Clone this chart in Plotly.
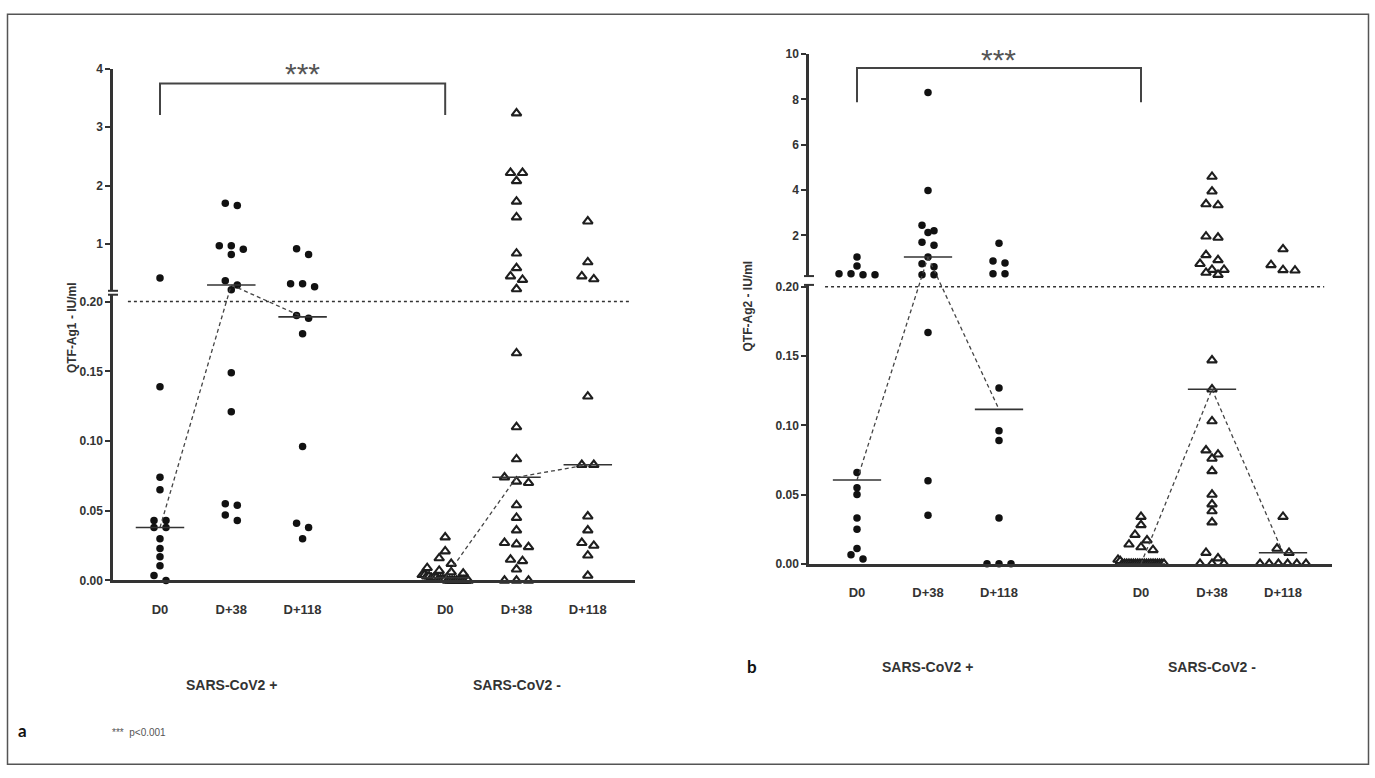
import numpy as np
import plotly.graph_objects as go

W, H = 1375, 778

# ---------------- data ----------------
time_labels = ["D0", "D+38", "D+118", "D0", "D+38", "D+118"]
group_labels = ["SARS-CoV2 +", "SARS-CoV2 -"]
cat_pos = [0, 1, 2, 4, 5, 6]
SPLIT = 0.2

# Panel a : QTF-Ag1 (IU/ml)
a_pos_d0 = [0.42, 0.139, 0.074, 0.065, 0.043, 0.043, 0.038, 0.038, 0.030, 0.023, 0.017, 0.0105, 0.0035, 0.0]
a_pos_d38 = [1.70, 1.66, 0.97, 0.97, 0.91, 0.82, 0.37, 0.30, 0.22, 0.149, 0.121, 0.055, 0.054, 0.047, 0.043]
a_pos_d118 = [0.92, 0.82, 0.32, 0.32, 0.27, 0.19, 0.188, 0.177, 0.096, 0.041, 0.038, 0.030]
a_neg_d0 = [0.031, 0.021, 0.016, 0.012, 0.009, 0.007, 0.006, 0.005, 0.004, 0.004, 0.003, 0.003,
            0.002, 0.002, 0.002, 0.001, 0.001, 0.001, 0.001, 0, 0, 0, 0, 0, 0, 0, 0, 0, 0]
a_neg_d38 = [3.24, 2.22, 2.22, 2.08, 1.73, 1.46, 0.84, 0.59, 0.45, 0.39, 0.23, 0.163, 0.110, 0.087,
             0.074, 0.071, 0.070, 0.054, 0.045, 0.036, 0.027, 0.026, 0.024, 0.015, 0.014, 0.008, 0, 0, 0]
a_neg_d118 = [1.39, 0.69, 0.45, 0.40, 0.132, 0.083, 0.083, 0.046, 0.036, 0.027, 0.025, 0.018, 0.0035]

# Panel b : QTF-Ag2 (IU/ml)
b_pos_d0 = [1.04, 0.65, 0.30, 0.30, 0.26, 0.26, 0.066, 0.055, 0.050, 0.033, 0.025, 0.011, 0.0066, 0.0035]
b_pos_d38 = [8.31, 3.98, 2.44, 2.20, 2.12, 1.69, 1.56, 1.04, 0.74, 0.61, 0.26, 0.26, 0.167, 0.060, 0.035]
b_pos_d118 = [1.65, 0.87, 0.78, 0.30, 0.30, 0.127, 0.096, 0.089, 0.033, 0, 0, 0]
b_neg_d0 = [0.034, 0.028, 0.021, 0.017, 0.014, 0.012, 0.010, 0.003, 0.002] + [0] * 20
b_neg_d38 = [4.59, 3.94, 3.38, 3.33, 1.95, 1.90, 1.13, 0.91, 0.74, 0.48, 0.48, 0.35, 0.26, 0.147,
             0.126, 0.103, 0.082, 0.079, 0.076, 0.067, 0.050, 0.043, 0.038, 0.030, 0.008, 0.004, 0, 0, 0]
b_neg_d118 = [1.39, 0.69, 0.47, 0.45, 0.034, 0.011, 0.008, 0, 0, 0, 0, 0, 0]

upper_ticks_a = [1, 2, 3, 4]
upper_ticks_b = [2, 4, 6, 8, 10]
lower_ticks = [0.00, 0.05, 0.10, 0.15, 0.20]

# ---------------- geometry (pixels) ----------------
PA = dict(x_px=(113, 635), xr=(-0.659, 6.662), low_px=(584, 293), low_r=(0, 0.2049),
          up_px=(289, 63), up_r=(0.2, 4.0), xa="x", yl="y", yu="y2",
          groups=[a_pos_d0, a_pos_d38, a_pos_d118, a_neg_d0, a_neg_d38, a_neg_d118],
          upticks=upper_ticks_a, title="QTF-Ag1 - IU/ml", title_xy=(72, 327),
          glab_y=690, star_y=(3.916, 3.21, 3.75))
PB = dict(x_px=(809, 1332), xr=(-0.676, 6.69), low_px=(567, 283), low_r=(0, 0.2014),
          up_px=(274, 48), up_r=(0.2, 10.0), xa="x2", yl="y3", yu="y4",
          groups=[b_pos_d0, b_pos_d38, b_pos_d118, b_neg_d0, b_neg_d38, b_neg_d118],
          upticks=upper_ticks_b, title="QTF-Ag2 - IU/ml", title_xy=(748, 305),
          glab_y=672, star_y=(9.78, 7.88, 9.39))

AX = "#333333"
FONT = "Liberation Sans, Arial, sans-serif"


def to_py(v, P):
    if v > SPLIT:
        (pb, pt), (r0, r1) = P["up_px"], P["up_r"]
    else:
        (pb, pt), (r0, r1) = P["low_px"], P["low_r"]
    return pb - (v - r0) / (r1 - r0) * (pb - pt)


def unit_px(P):
    return (P["x_px"][1] - P["x_px"][0]) / (P["xr"][1] - P["xr"][0])


def swarm(vals, P, step=12.0, maxw=46.0, thr=6.0):
    py = [to_py(v, P) for v in vals]
    idx = sorted(range(len(vals)), key=lambda i: py[i])
    offs = [0.0] * len(vals)
    rows = []
    for i in idx:
        if rows and py[i] - py[rows[-1][0]] < thr:
            rows[-1].append(i)
        else:
            rows.append([i])
    for r in rows:
        k = len(r)
        s = step if k == 1 else min(step, maxw / (k - 1))
        for j, i in enumerate(r):
            offs[i] = (j - (k - 1) / 2) * s
    return offs


fig = go.Figure()
shapes = []
annotations = []

for P in (PA, PB):
    u = unit_px(P)
    for gi, vals in enumerate(P["groups"]):
        pos = cat_pos[gi]
        offs = swarm(vals, P)
        xs = [pos + o / u for o in offs]
        positive = gi < 3
        if positive:
            marker = dict(symbol="circle", size=7.5, color="#111111", line=dict(width=0))
        else:
            marker = dict(symbol="triangle-up", size=8.5, color="white",
                          line=dict(color="#1e1e1e", width=2.1))
        lo = [(x, v) for x, v in zip(xs, vals) if v <= SPLIT]
        hi = [(x, v) for x, v in zip(xs, vals) if v > SPLIT]
        for pts, ya in ((lo, P["yl"]), (hi, P["yu"])):
            if not pts:
                continue
            fig.add_trace(go.Scatter(x=[p[0] for p in pts], y=[p[1] for p in pts], mode="markers",
                                     marker=marker, xaxis=P["xa"], yaxis=ya, cliponaxis=False,
                                     showlegend=False, hoverinfo="y"))
        # median line
        med = float(np.median(vals))
        shapes.append(dict(type="line", xref=P["xa"], yref=(P["yu"] if med > SPLIT else P["yl"]),
                           x0=pos - 0.34, x1=pos + 0.34, y0=med, y1=med,
                           line=dict(color=AX, width=1.6)))
    # dashed connectors between medians
    for g0 in (0, 3):
        for k in range(2):
            m0 = float(np.median(P["groups"][g0 + k]))
            m1 = float(np.median(P["groups"][g0 + k + 1]))
            shapes.append(dict(type="line", xref=P["xa"], yref="paper",
                               x0=cat_pos[g0 + k], x1=cat_pos[g0 + k + 1],
                               y0=1 - to_py(m0, P) / H, y1=1 - to_py(m1, P) / H,
                               line=dict(color="#444444", width=1.3, dash="4px,3px")))
    # threshold line
    shapes.append(dict(type="line", xref=P["xa"], yref=P["yl"], x0=-0.45, x1=6.58,
                       y0=SPLIT, y1=SPLIT, line=dict(color=AX, width=1.5, dash="3px,3px")))
    # significance bracket
    sy, b0, b1 = P["star_y"]
    shapes.append(dict(type="path", xref=P["xa"], yref=P["yu"],
                       path=f"M {cat_pos[0]},{b0} L {cat_pos[0]},{b1} L {cat_pos[3]},{b1} L {cat_pos[3]},{b0}",
                       line=dict(color="#444444", width=2)))
    annotations.append(dict(xref=P["xa"], yref=P["yu"], x=(cat_pos[0] + cat_pos[3]) / 2, y=sy,
                            text="***", showarrow=False, font=dict(size=30, color="#555555", family=FONT),
                            yanchor="middle"))
    # axis break caps
    xa0 = P["x_px"][0]
    for ypx in (P["up_px"][0], P["low_px"][1]):
        shapes.append(dict(type="line", xref="paper", yref="paper", x0=(xa0 - 5) / W, x1=(xa0 + 5) / W,
                           y0=1 - ypx / H, y1=1 - ypx / H, line=dict(color=AX, width=2)))
    # group labels
    for gi, gl in enumerate(group_labels):
        annotations.append(dict(xref=P["xa"], yref="paper", x=cat_pos[gi * 3 + 1], y=1 - P["glab_y"] / H,
                                text=gl, showarrow=False, yanchor="middle",
                                font=dict(size=14, color=AX, family=FONT, weight="bold")))
    tx, ty = P["title_xy"]
    annotations.append(dict(xref="paper", yref="paper", x=tx / W, y=1 - ty / H, text=P["title"],
                            textangle=-90, showarrow=False, xanchor="center", yanchor="middle",
                            font=dict(size=12, color=AX, family=FONT, weight="bold")))

# panel letters and footnote
annotations.append(dict(xref="paper", yref="paper", x=22 / W, y=1 - 737 / H, text="a", showarrow=False,
                        xanchor="center", yanchor="middle",
                        font=dict(size=17, color="#111111", family="Lato, sans-serif", weight="bold")))
annotations.append(dict(xref="paper", yref="paper", x=752 / W, y=1 - 672 / H, text="b", showarrow=False,
                        xanchor="center", yanchor="middle",
                        font=dict(size=17, color="#111111", family="Lato, sans-serif", weight="bold")))
annotations.append(dict(xref="paper", yref="paper", x=110 / W, y=1 - 739 / H, text="***  p<0.001",
                        showarrow=False, xanchor="left", yanchor="middle",
                        font=dict(size=10, color="#555555", family=FONT)))

# outer frame
shapes.append(dict(type="rect", xref="paper", yref="paper", x0=7.5 / W, x1=1368.5 / W,
                   y0=1 - 771 / H, y1=1 - 7.5 / H, line=dict(color="#555555", width=1.5)))

tickfont = dict(size=12, color=AX, family=FONT, weight="bold")


def xaxis_cfg(P, anchor):
    return dict(domain=[P["x_px"][0] / W, P["x_px"][1] / W], range=list(P["xr"]), anchor=anchor,
                showline=True, linewidth=2.5, linecolor=AX, showgrid=False, zeroline=False,
                tickvals=cat_pos, ticktext=time_labels, ticks="outside", ticklen=15,
                tickcolor="rgba(0,0,0,0)", tickfont=dict(size=13, color=AX, family=FONT, weight="bold"),
                fixedrange=True)


def yaxis_cfg(px, rng, anchor, tickvals, fmt):
    return dict(domain=[1 - px[0] / H, 1 - px[1] / H], range=list(rng), anchor=anchor,
                showline=True, linewidth=2.5, linecolor=AX, showgrid=False, zeroline=False,
                tickvals=tickvals, tickformat=fmt, ticks="outside", ticklen=5, tickwidth=2,
                tickcolor=AX, tickfont=tickfont, fixedrange=True)


fig.update_layout(
    width=W, height=H, autosize=False,
    margin=dict(l=0, r=0, t=0, b=0),
    paper_bgcolor="white", plot_bgcolor="white",
    showlegend=False,
    xaxis=xaxis_cfg(PA, "y"),
    xaxis2=xaxis_cfg(PB, "y3"),
    yaxis=yaxis_cfg(PA["low_px"], PA["low_r"], "x", lower_ticks, ".2f"),
    yaxis2=yaxis_cfg(PA["up_px"], PA["up_r"], "x", PA["upticks"], "d"),
    yaxis3=yaxis_cfg(PB["low_px"], PB["low_r"], "x2", lower_ticks, ".2f"),
    yaxis4=yaxis_cfg(PB["up_px"], PB["up_r"], "x2", PB["upticks"], "d"),
    shapes=shapes,
    annotations=annotations,
)

fig.write_html("out.html", config={"displayModeBar": False},
               post_script="document.body.style.margin='0';document.body.style.overflow='hidden';")
